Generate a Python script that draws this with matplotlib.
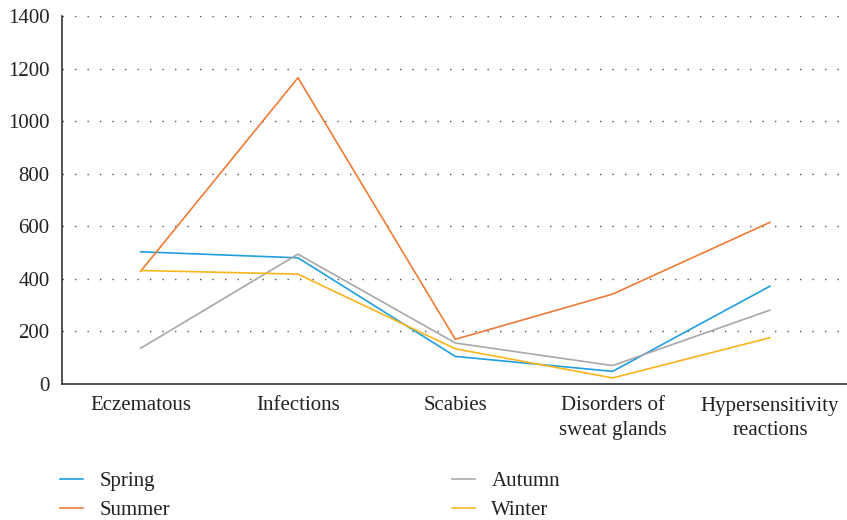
import matplotlib
matplotlib.use("Agg")
import matplotlib.pyplot as plt

categories = ["Eczematous", "Infections", "Scabies", "Disorders of\nsweat glands", "Hypersensitivity\nreactions"]
spring = [503, 480, 105, 48, 372]
summer = [429, 1165, 170, 342, 615]
autumn = [136, 494, 156, 70, 281]
winter = [432, 418, 134, 23, 176]
yticks = [0, 200, 400, 600, 800, 1000, 1200, 1400]

colors = {"Spring": "#1f9fe0", "Summer": "#f07b35", "Autumn": "#a8a8a8", "Winter": "#fbb41c"}

plt.rcParams['font.family'] = ['Liberation Serif', 'DejaVu Serif']
fig = plt.figure(figsize=(8.47, 5.2), dpi=100)
ax = fig.add_axes([62/847, 136/520, (847-62)/847, (384-16)/520])

x = list(range(len(categories)))
lines = []
for name, vals in [("Spring", spring), ("Summer", summer), ("Autumn", autumn), ("Winter", winter)]:
    l, = ax.plot(x, vals, color=colors[name], lw=1.2, label=name)
    lines.append(l)

fs = 15
ax.set_xlim(-0.5, 4.49)
ax.set_ylim(0, 1400)
ax.set_yticks(yticks)
ax.set_xticks(x)
ax.set_xticklabels(categories, fontsize=fs, color="#222222", linespacing=1.4)
ax.tick_params(axis='y', labelsize=fs, colors="#222222", length=0, pad=9)
ax.tick_params(axis='x', length=0, pad=9)
ax.yaxis.grid(True, linestyle=(0, (1, 8)), color="#555555", lw=1.0)
ax.set_axisbelow(True)
for s in ["top", "right"]:
    ax.spines[s].set_visible(False)
for s in ["left", "bottom"]:
    ax.spines[s].set_color("#333333")
    ax.spines[s].set_linewidth(1.2)

leg = fig.legend(handles=lines, labels=["Spring", "Summer", "Autumn", "Winter"], ncol=2,
                 loc="upper left", bbox_to_anchor=(52/847, 1 - 463/520), frameon=False,
                 fontsize=fs, handlelength=1.1, handletextpad=0.8, columnspacing=13.5,
                 labelspacing=0.45, borderaxespad=0)
for t in leg.get_texts():
    t.set_color("#222222")

fig.savefig("out.png", dpi=100)
